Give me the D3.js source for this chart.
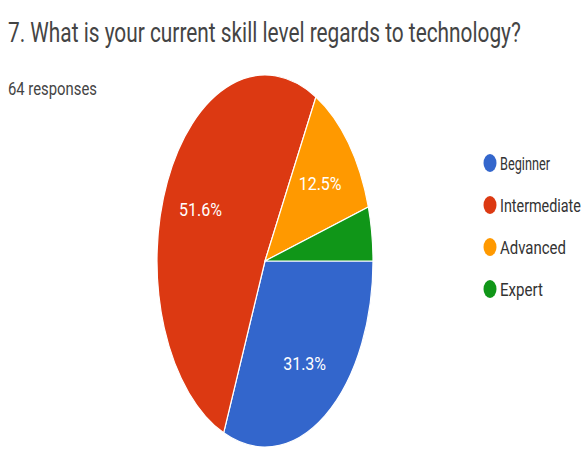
<!DOCTYPE html>
<html>
<head>
<meta charset="utf-8">
<script src="https://cdn.jsdelivr.net/npm/d3@7"></script>
<style>
  body { margin: 0; background: #fff; }
  svg { display: block; font-family: Roboto, Arial, sans-serif; }
</style>
</head>
<body>
<div id="chart"></div>
<script>
const title = '7. What is your current skill level regards to technology?'
const subtitle = '64 responses'
const categories = ['Beginner', 'Intermediate', 'Advanced', 'Expert']
const counts = [20, 33, 8, 3]
const colors = ['#3366cc', '#dc3912', '#ff9900', '#109618']

const width = 582
const height = 452
const cx = 265, cy = 261
const rx = 108, ry = 186

const svg = d3.select('#chart')
    .append('svg')
    .attr('width', width)
    .attr('height', height)
    .attr('xmlns', 'http://www.w3.org/2000/svg')

// squeeze text horizontally, the source picture is stretched vertically
function squeeze(sel, x, y, w) {
    sel.each(function () {
        const len = this.getComputedTextLength()
        d3.select(this).attr('transform', `translate(${x},${y}) scale(${w / len},1)`)
    })
}

svg.append('text')
    .attr('font-size', 28)
    .attr('fill', '#444')
    .text(title)
    .call(squeeze, 8, 42, 513)

svg.append('text')
    .attr('font-size', 18)
    .attr('fill', '#444')
    .text(subtitle)
    .call(squeeze, 8, 95, 89)

const total = d3.sum(counts)
const pie = d3.pie().sort(null)
    .startAngle(Math.PI / 2)
    .endAngle(Math.PI / 2 + 2 * Math.PI)
const arcs = pie(counts)
const arc = d3.arc().innerRadius(0).outerRadius(rx)

const g = svg.append('g')
    .attr('transform', `translate(${cx},${cy}) scale(1,${ry / rx})`)

g.selectAll('path')
    .data(arcs)
    .enter()
    .append('path')
    .attr('d', arc)
    .attr('fill', (d, i) => colors[i])
    .attr('stroke', '#fff')
    .attr('stroke-width', 1.2)
    .attr('vector-effect', 'non-scaling-stroke')

const labelArc = d3.arc().innerRadius(rx * 0.66).outerRadius(rx * 0.66)
const fmt = d => (d * 100).toFixed(1) + '%'

svg.selectAll('text.pct')
    .data(arcs.filter(d => d.data / total > 0.05))
    .enter()
    .append('text')
    .attr('class', 'pct')
    .attr('font-size', 19)
    .attr('fill', '#fff')
    .attr('text-anchor', 'middle')
    .text(d => fmt(d.data / total))
    .each(function (d) {
        const c = labelArc.centroid(d)
        const len = this.getComputedTextLength()
        d3.select(this).attr('transform',
            `translate(${cx + c[0]},${cy + c[1] * ry / rx + 7}) scale(${43 / len},1)`)
    })

const legend = svg.append('g')
    .selectAll('g')
    .data(categories)
    .enter()
    .append('g')
    .attr('transform', (d, i) => `translate(490,${163 + i * 42})`)

legend.append('ellipse')
    .attr('rx', 6.5)
    .attr('ry', 9)
    .attr('fill', (d, i) => colors[i])

const legendW = [50, 81, 66, 43]
legend.append('text')
    .attr('font-size', 19)
    .attr('fill', '#333')
    .text(d => d)
    .each(function (d, i) {
        const len = this.getComputedTextLength()
        d3.select(this).attr('transform', `translate(10,7) scale(${legendW[i] / len},1)`)
    })
</script>
</body>
</html>
